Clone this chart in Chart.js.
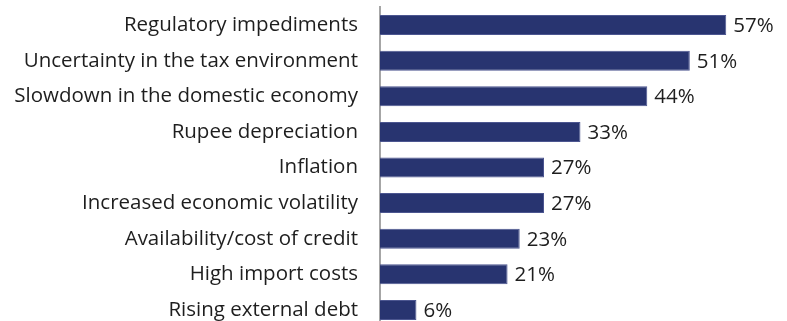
<!DOCTYPE html>
<html>
<head>
<meta charset="utf-8">
<script src="https://cdn.jsdelivr.net/npm/chart.js@4/dist/chart.umd.min.js"></script>
<style>
  html, body { margin: 0; padding: 0; background: #fff; overflow: hidden; }
  /* the y scale reserves label padding above and below the plot area,
     so the canvas is taller than the window and pulled up */
  #wrap { position: relative; width: 787px; height: 389px; margin-top: -27px; }
</style>
</head>
<body>
<div id="wrap"><canvas id="barChart"></canvas></div>
<script>
// --- datos ---
const categories = [
  'Regulatory impediments',
  'Uncertainty in the tax environment',
  'Slowdown in the domestic economy',
  'Rupee depreciation',
  'Inflation',
  'Increased economic volatility',
  'Availability/cost of credit',
  'High import costs',
  'Rising external debt'
];
const shares = [57, 51, 44, 33, 27, 27, 23, 21, 6];

const barColor = '#283470';
const textColor = '#1e1e1e';
const fontFamily = '"Open Sans", "Noto Sans", sans-serif';

// Etiquetas de valor a la derecha de cada barra
const valueLabels = {
  id: 'valueLabels',
  afterDatasetsDraw(chart) {
    const { ctx } = chart;
    const meta = chart.getDatasetMeta(0);
    ctx.save();
    ctx.font = '20.5px ' + fontFamily;
    ctx.fillStyle = textColor;
    ctx.textAlign = 'left';
    ctx.textBaseline = 'middle';
    meta.data.forEach((bar, i) => {
      ctx.fillText(shares[i] + '%', bar.x + 7, bar.y + 1);
    });
    ctx.restore();
  }
};

new Chart(document.getElementById('barChart'), {
  type: 'bar',
  data: {
    labels: categories,
    datasets: [{
      data: shares,
      backgroundColor: barColor,
      borderColor: '#4c5690',
      borderWidth: 1,
      borderSkipped: 'start',
      categoryPercentage: 1,
      barPercentage: 0.5625
    }]
  },
  options: {
    indexAxis: 'y',
    responsive: true,
    maintainAspectRatio: false,
    animation: false,
    layout: { padding: 0 },
    plugins: {
      legend: { display: false },
      tooltip: { enabled: false }
    },
    scales: {
      x: {
        display: false,
        min: 0,
        max: 67
      },
      y: {
        afterFit(scale) { scale.width = 380; },
        grid: { display: false, drawTicks: false },
        border: { display: true, color: '#a6a6a6', width: 2 },
        ticks: {
          color: textColor,
          padding: 22,
          font: { family: fontFamily, size: 20.5 }
        }
      }
    }
  },
  plugins: [valueLabels]
});
</script>
</body>
</html>
